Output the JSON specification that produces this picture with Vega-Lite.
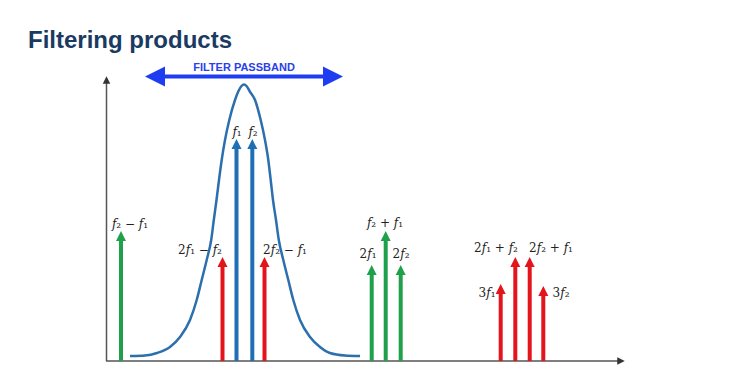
{
  "$schema": "https://vega.github.io/schema/vega-lite/v6.json",
  "autosize": {"type": "fit", "contains": "padding"},
  "width": 748,
  "height": 382,
  "padding": 0,
  "background": "white",
  "config": {"view": {"stroke": null}, "axis": {"disable": true}},
  "data": {"values": [{"one": 1}]},
  "datasets": {
    "curve": [
      {"f": 130, "a": 26}, {"f": 145, "a": 26.5}, {"f": 157, "a": 29}, {"f": 170, "a": 35},
      {"f": 180, "a": 45}, {"f": 190, "a": 62}, {"f": 196.7, "a": 82}, {"f": 201.7, "a": 102},
      {"f": 206.7, "a": 122}, {"f": 211.2, "a": 142}, {"f": 213.8, "a": 162}, {"f": 216.5, "a": 182},
      {"f": 219, "a": 202}, {"f": 221.7, "a": 222}, {"f": 225, "a": 242}, {"f": 229.3, "a": 262},
      {"f": 235, "a": 282}, {"f": 238.5, "a": 291}, {"f": 241.5, "a": 296}, {"f": 244, "a": 297.5},
      {"f": 246.5, "a": 296}, {"f": 249.5, "a": 291},
      {"f": 255, "a": 282}, {"f": 260.7, "a": 262}, {"f": 265, "a": 242}, {"f": 268.3, "a": 222},
      {"f": 270.7, "a": 202}, {"f": 273, "a": 182}, {"f": 276, "a": 162}, {"f": 278.8, "a": 142},
      {"f": 283.3, "a": 122}, {"f": 288.3, "a": 102}, {"f": 293.3, "a": 82}, {"f": 300, "a": 62},
      {"f": 310, "a": 45}, {"f": 320, "a": 35}, {"f": 330, "a": 29}, {"f": 345, "a": 26.5},
      {"f": 360, "a": 26}
    ],
    "arrows": [
      {"f": 121, "tip": 151, "order": "difference"},
      {"f": 222.5, "tip": 125, "order": "third"},
      {"f": 236.5, "tip": 243, "order": "fundamental"},
      {"f": 252.3, "tip": 243, "order": "fundamental"},
      {"f": 264.5, "tip": 125, "order": "third"},
      {"f": 371.7, "tip": 117, "order": "difference"},
      {"f": 385.7, "tip": 151, "order": "difference"},
      {"f": 400.7, "tip": 117, "order": "difference"},
      {"f": 500.7, "tip": 98, "order": "third"},
      {"f": 515.3, "tip": 125, "order": "third"},
      {"f": 529.7, "tip": 125, "order": "third"},
      {"f": 543.3, "tip": 96, "order": "third"}
    ],
    "labels": [
      {"f": 130, "a": 158, "t": "𝑓₂ − 𝑓₁"},
      {"f": 200, "a": 132, "t": "2𝑓₁ − 𝑓₂"},
      {"f": 285, "a": 132, "t": "2𝑓₂ − 𝑓₁"},
      {"f": 237, "a": 250, "t": "𝑓₁"},
      {"f": 253, "a": 250, "t": "𝑓₂"},
      {"f": 385, "a": 159, "t": "𝑓₂ + 𝑓₁"},
      {"f": 368, "a": 128, "t": "2𝑓₁"},
      {"f": 401, "a": 128, "t": "2𝑓₂"},
      {"f": 496, "a": 134, "t": "2𝑓₁ + 𝑓₂"},
      {"f": 551, "a": 134, "t": "2𝑓₂ + 𝑓₁"},
      {"f": 487, "a": 89, "t": "3𝑓₁"},
      {"f": 561, "a": 89, "t": "3𝑓₂"}
    ]
  },
  "layer": [
    {
      "mark": {"type": "text", "text": "Filtering products", "font": "Liberation Sans", "fontWeight": "bold", "fontSize": 24, "color": "#1b3a62", "align": "left", "baseline": "alphabetic"},
      "encoding": {
        "x": {"datum": 28, "type": "quantitative", "scale": {"domain": [0, 748], "nice": false, "zero": false}},
        "y": {"datum": 334, "type": "quantitative", "scale": {"domain": [0, 382], "nice": false, "zero": false}}
      }
    },
    {
      "mark": {"type": "rule", "color": "#555555", "strokeWidth": 1.5},
      "encoding": {
        "x": {"datum": 106.5, "type": "quantitative"},
        "y": {"datum": 21, "type": "quantitative"},
        "y2": {"datum": 300}
      }
    },
    {
      "mark": {"type": "rule", "color": "#555555", "strokeWidth": 1.5},
      "encoding": {
        "x": {"datum": 106, "type": "quantitative"},
        "x2": {"datum": 620},
        "y": {"datum": 21, "type": "quantitative"}
      }
    },
    {
      "mark": {"type": "point", "shape": "M0,-1L1,1L-1,1Z", "filled": true, "opacity": 1, "color": "#333333", "size": 56, "yOffset": 4},
      "encoding": {
        "x": {"datum": 106.5, "type": "quantitative"},
        "y": {"datum": 306, "type": "quantitative"}
      }
    },
    {
      "mark": {"type": "point", "shape": "M1,0L-1,-1L-1,1Z", "filled": true, "opacity": 1, "color": "#333333", "size": 56, "xOffset": -4},
      "encoding": {
        "x": {"datum": 625, "type": "quantitative"},
        "y": {"datum": 21, "type": "quantitative"}
      }
    },
    {
      "data": {"name": "curve"},
      "mark": {"type": "line", "color": "#2b6fae", "strokeWidth": 2.5, "interpolate": "monotone"},
      "encoding": {
        "x": {"field": "f", "type": "quantitative"},
        "y": {"field": "a", "type": "quantitative"}
      }
    },
    {
      "data": {"name": "arrows"},
      "mark": {"type": "rule", "strokeWidth": 4, "yOffset": 6},
      "encoding": {
        "x": {"field": "f", "type": "quantitative"},
        "y": {"field": "tip", "type": "quantitative"},
        "y2": {"datum": 21},
        "color": {"field": "order", "type": "nominal", "legend": null,
          "scale": {"domain": ["fundamental", "difference", "third"], "range": ["#1f6fb5", "#1fa04b", "#e4141d"]}}
      }
    },
    {
      "data": {"name": "arrows"},
      "mark": {"type": "point", "shape": "M0,-1L1,1L-1,1Z", "filled": true, "opacity": 1, "size": 100, "yOffset": 5},
      "encoding": {
        "x": {"field": "f", "type": "quantitative"},
        "y": {"field": "tip", "type": "quantitative"},
        "color": {"field": "order", "type": "nominal", "legend": null}
      }
    },
    {
      "data": {"name": "labels"},
      "mark": {"type": "text", "font": "DejaVu Serif", "fontSize": 12, "color": "#222222", "align": "center", "baseline": "middle"},
      "encoding": {
        "x": {"field": "f", "type": "quantitative"},
        "y": {"field": "a", "type": "quantitative"},
        "text": {"field": "t"}
      }
    },
    {
      "mark": {"type": "rule", "color": "#1e3cf0", "strokeWidth": 4},
      "encoding": {
        "x": {"datum": 160, "type": "quantitative"},
        "x2": {"datum": 330},
        "y": {"datum": 305.5, "type": "quantitative"}
      }
    },
    {
      "mark": {"type": "point", "shape": "M-1,0L1,-1L1,1Z", "filled": true, "opacity": 1, "color": "#1e3cf0", "size": 400, "xOffset": 10},
      "encoding": {
        "x": {"datum": 145, "type": "quantitative"},
        "y": {"datum": 305.5, "type": "quantitative"}
      }
    },
    {
      "mark": {"type": "point", "shape": "M1,0L-1,-1L-1,1Z", "filled": true, "opacity": 1, "color": "#1e3cf0", "size": 400, "xOffset": -10},
      "encoding": {
        "x": {"datum": 343, "type": "quantitative"},
        "y": {"datum": 305.5, "type": "quantitative"}
      }
    },
    {
      "mark": {"type": "text", "text": "FILTER PASSBAND", "font": "Liberation Sans", "fontWeight": "bold", "fontSize": 11, "color": "#2b3fe6", "align": "center", "baseline": "middle"},
      "encoding": {
        "x": {"datum": 244, "type": "quantitative"},
        "y": {"datum": 314, "type": "quantitative"}
      }
    }
  ]
}
